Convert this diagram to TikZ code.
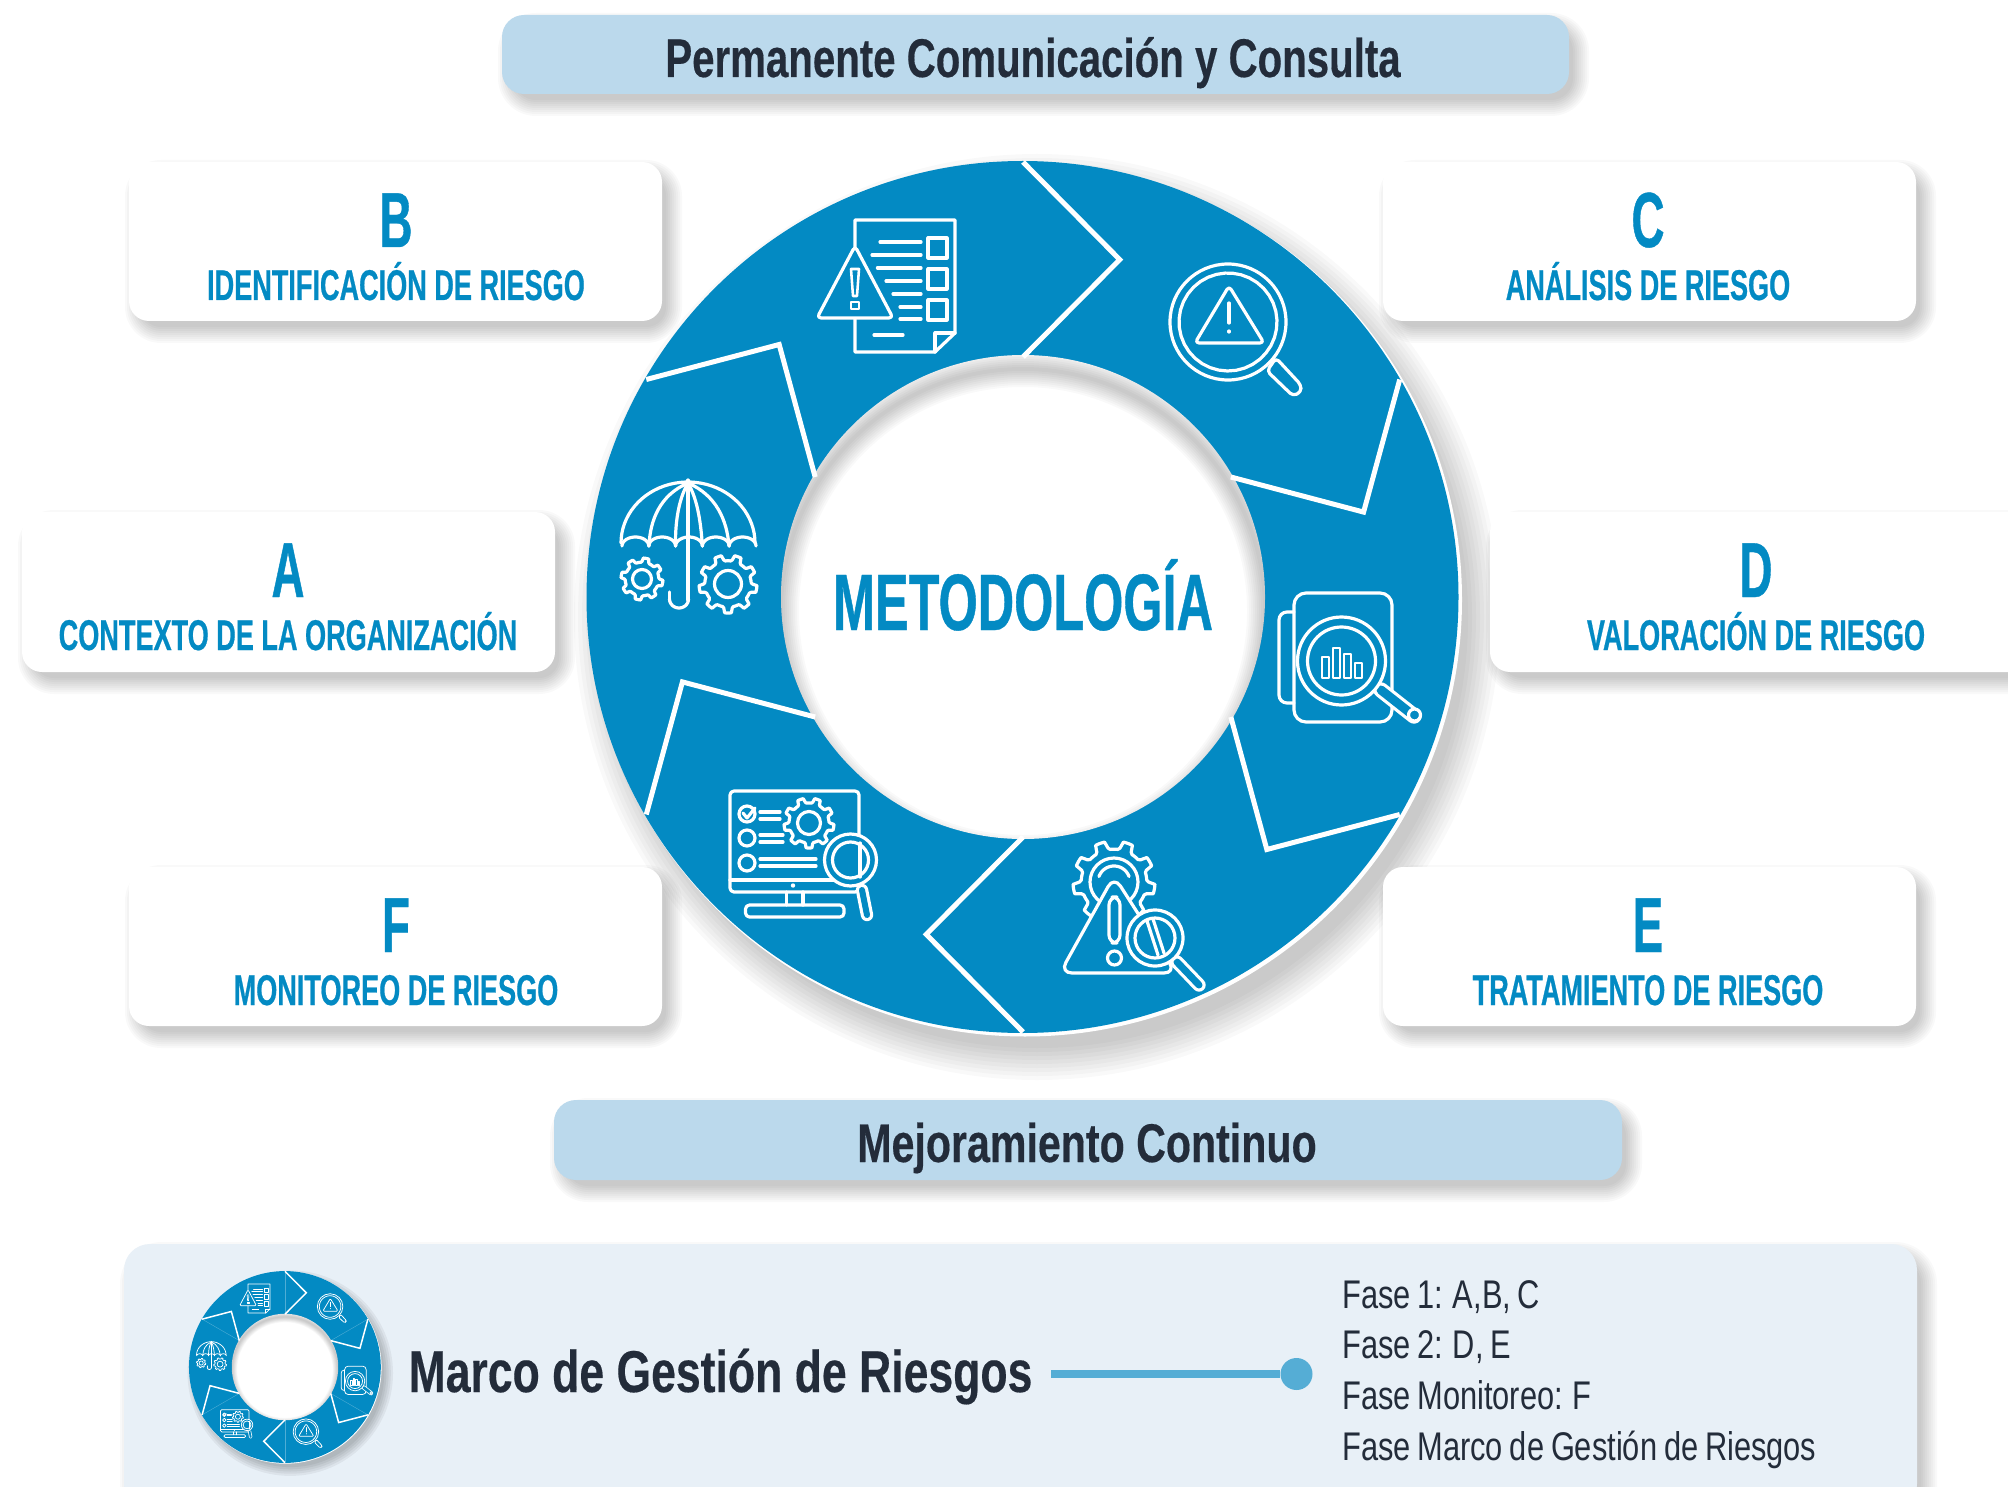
\documentclass[tikz,border=0pt]{standalone}
\usepackage{fontspec}
\setmainfont{Liberation Sans}
\newfontfamily\capsfont[FakeStretch=0.63,BoldFeatures={FakeBold=0.5}]{Liberation Sans}
\newfontfamily\bigfont[FakeStretch=0.585,BoldFeatures={FakeBold=0.5}]{Liberation Sans}
\newfontfamily\headfont[FakeStretch=0.738,BoldFeatures={FakeBold=0.3}]{Liberation Sans}
\newfontfamily\marcofont[FakeStretch=0.755,BoldFeatures={FakeBold=0.3}]{Liberation Sans}
\newfontfamily\bodyfont[FakeStretch=0.77,WordSpace=0.8]{Liberation Sans}
\definecolor{ringblue}{HTML}{038AC3}
\definecolor{ink}{HTML}{232C3A}
\definecolor{barblue}{HTML}{BBD9EC}
\definecolor{panelblue}{HTML}{E8F0F7}
\definecolor{dotblue}{HTML}{55ADD5}
\def\iw{3.2}\def\us{1}\def\rr{4pt}
\tikzset{
  icon/.style={draw=white,line width=\iw pt,line join=round,line cap=round},
  iconfill/.style={icon,fill=ringblue},
  letterlab/.style={anchor=base,text=ringblue,font=\bigfont\bfseries\fontsize{78}{82}\selectfont},
  sublab/.style={anchor=base,text=ringblue,font=\capsfont\bfseries\fontsize{43}{48}\selectfont},
  headlab/.style={anchor=base,text=ink,font=\headfont\bfseries\fontsize{54.5}{60}\selectfont},
  marcolab/.style={anchor=base,text=ink,font=\marcofont\bfseries},
  fase/.style={anchor=base west,inner xsep=0pt,text=ink,font=\bodyfont\fontsize{40}{44}\selectfont},
}
% soft box: x1 y1 x2 y2 fill radius
\newcommand\softbox[6]{%
  \foreach \s in {12,10,...,-4}{%
    \pgfmathsetmacro\rc{#6+\s+4}%
    \fill[black,opacity=.022,rounded corners=\rc pt] ({#1+8-\s},{#2+10-\s}) rectangle ({#3+8+\s},{#4+10+\s});
  }%
  \fill[#5,rounded corners=#6pt] (#1,#2) rectangle (#3,#4);
}
\newcommand\arcp[5]{\draw[icon] plot[domain=#4:#5,samples=36,variable=\t] ({#1+#3*cos(\t)},{#2-#3*sin(\t)});}
\newcommand\gearicon[5]{%
  \pgfmathtruncatemacro\gs{#5*12+1}%
  \draw[iconfill] plot[domain=0:360,samples=\gs,variable=\t]
    ({#1+#3*(.8+.2*max(0,min(1,2.5*sin(#5*\t)+.2)))*cos(\t)},{#2+#3*(.8+.2*max(0,min(1,2.5*sin(#5*\t)+.2)))*sin(\t)});
  \draw[icon] (#1,#2) circle[radius=#4 pt];
}
\newcommand\pill[5]{%
  \draw[white,line cap=round,line width=#5*\us pt+2*\iw pt] (#1,#2)--(#3,#4);
  \draw[ringblue,line cap=round,line width=#5*\us pt] (#1,#2)--(#3,#4);
}
\newcommand\iconA{%
  \draw[icon] plot[domain=0:180,samples=40,variable=\t] ({688+67*cos(\t)},{543-61*sin(\t)});
  \foreach \c in {635.4,662.2,689,715.8,742.6}{%
    \draw[icon] plot[domain=0:180,samples=16,variable=\t] ({\c+13.4*cos(\t)},{546-9*sin(\t)});}
  \draw[icon] (688,480)--(688,600);
  \draw[icon] plot[domain=0:180,samples=16,variable=\t] ({679+9.5*cos(\t)},{599+9*sin(\t)});
  \draw[icon] (669.5,599)--(669.5,592);
  \draw[icon] (688,483) .. controls (660,495) and (650,520) .. (649,546);
  \draw[icon] (688,483) .. controls (678,500) and (675,525) .. (675.6,546);
  \draw[icon] (688,483) .. controls (698,500) and (701,525) .. (702.4,546);
  \draw[icon] (688,483) .. controls (716,495) and (727,520) .. (729,546);
  \gearicon{642}{579}{21}{9.5}{8}
  \gearicon{728}{584}{29}{13.5}{9}
}
\newcommand\iconB{%
  \draw[icon] (855,220)--(955,220)--(955,333)--(935,352)--(855,352)--cycle;
  \draw[icon] (935,352)--(935,333)--(955,333);
  \foreach \a/\b/\y in {880/921/242,872/921/255,877.4/921/268,886/921/281,893/921/294,900/921/307,900/921/319,874/903/335}{%
    \draw[icon] (\a,\y)--(\b,\y);}
  \foreach \y in {238,269,300}{\draw[icon] (928,\y) rectangle (947,\y+20);}
  \draw[iconfill,rounded corners=\rr] (855,246)--(893,318)--(817,318)--cycle;
  \draw[icon,line width=.8*\iw pt] (851,269)--(859,269)--(857,296)--(853,296)--cycle;
  \draw[icon,line width=.8*\iw pt] (851,302) rectangle (859,309);
}
\newcommand\iconC{%
  \draw[icon] (1228,322) circle[radius=58pt];
  \arcp{1228}{322}{49}{83}{445}
  \draw[icon,rounded corners=\rr] (1267,371)--(1276,358)--(1301,385)--(1301,392)--(1293,396)--cycle;
  \draw[icon,rounded corners=\rr] (1229,286)--(1264,343)--(1195,343)--cycle;
  \draw[icon] (1229,303)--(1229,323);
  \draw[icon] (1229,331)--(1229,332);
}
\newcommand\iconD{%
  \draw[icon,rounded corners=2*\rr] (1294,612)--(1279,612)--(1279,703)--(1294,703);
  \draw[icon,rounded corners=3*\rr] (1294,593) rectangle (1392,722);
  \pill{1381}{690}{1414}{716}{9}
  \draw[iconfill] (1414.5,715) circle[radius=6pt];
  \draw[iconfill] (1341.5,661) circle[radius=44pt];
  \draw[icon] (1341.5,661) circle[radius=34pt];
  \foreach \a/\t in {1322/657,1333/648,1344/654,1355/663}{%
    \draw[icon,line width=.8*\iw pt] (\a,\t) rectangle (\a+7,678);}
}
\newcommand\iconE{%
  \gearicon{1114}{882}{41}{24}{9}
  \arcp{1114}{882}{16}{20}{160}
  \draw[iconfill,rounded corners=3*\rr] (1114,876)--(1176,973)--(1060,973)--cycle;
  \draw[icon,rounded corners=2*\rr] (1109,897) rectangle (1120,943);
  \draw[icon] (1114.5,958) circle[radius=7pt];
  \pill{1177}{962}{1199}{985}{7}
  \draw[iconfill] (1155,938) circle[radius=28pt];
  \draw[icon] (1155,938) circle[radius=20pt];
  \draw[icon] (1147,921)--(1158,955);
  \draw[icon] (1153,919)--(1164,953);
}
\newcommand\iconF{%
  \draw[icon,rounded corners=\rr] (730,791) rectangle (859,892);
  \draw[icon] (730,880)--(859,880);
  \fill[white] (793,885.5) circle[radius=2.2pt];
  \draw[icon] (786.5,892)--(786.5,905);
  \draw[icon] (803,892)--(803,905);
  \draw[icon,rounded corners=\rr] (745.5,905) rectangle (844,917);
  \draw[icon] (747,814) circle[radius=8pt];
  \draw[icon] (743,813)--(747,818)--(755,808);
  \draw[icon] (747,838) circle[radius=8pt];
  \draw[icon] (747,863) circle[radius=8pt];
  \foreach \a/\b/\y in {760/780/812,760/780/819,760/783/835,760/783/842,760/816/859,760/816/866}{%
    \draw[icon] (\a,\y)--(\b,\y);}
  \gearicon{809}{823}{25}{11.5}{9}
  \pill{862}{890}{867}{915}{6}
  \draw[iconfill] (850.5,860) circle[radius=26pt];
  \draw[icon] (850.5,860) circle[radius=18pt];
  \draw[icon] (860,843)--(860,877);
}
% ring without its lower icon
\newcommand\ringbase{%
  \fill[white] (1025,599.5) circle[radius=437pt];
  \fill[ringblue] (1022.5,597) circle[radius=436pt];
  \fill[white] (1023,597) circle[radius=242pt];
  \begin{scope}
    \clip (1023,597) circle[radius=242pt];
    \foreach \s in {4,8,...,36}{\draw[black,opacity=.024,line width=\s*\us pt] (1023,611) circle[radius=242pt];}
  \end{scope}
  \foreach \a in {90,30,-30,-90,-150,150}{%
    \draw[white,line width=5*\us pt,line join=miter]
      ({1023+435*cos(\a)},{597-435*sin(\a)})--({1023+351*cos(\a-16)},{597-351*sin(\a-16)})--({1023+240*cos(\a)},{597-240*sin(\a)});}
  \iconA\iconB\iconC\iconD\iconF
}
\begin{document}
\begin{tikzpicture}[x=1pt,y=-1pt]
\useasboundingbox (0,0) rectangle (2008,1487);
\clip (0,0) rectangle (2008,1487);
\fill[white] (0,0) rectangle (2008,1487);
% ring shadow
\foreach \s in {26,22,...,-6}{\fill[black,opacity=.024] (1037,617) circle[radius=437pt+\s pt];}
% boxes
\softbox{502}{15}{1569}{94}{barblue}{22}
\softbox{129}{162}{662}{321}{white}{20}
\softbox{1383}{162}{1916}{321}{white}{20}
\softbox{22}{512}{555}{672}{white}{20}
\softbox{1490}{512}{2060}{672}{white}{20}
\softbox{129}{867}{662}{1026}{white}{20}
\softbox{1383}{867}{1916}{1026}{white}{20}
\softbox{554}{1100}{1622}{1180}{barblue}{22}
\softbox{124}{1244}{1917}{1510}{panelblue}{26}
% big ring
\ringbase
\iconE
% small ring
\begin{scope}[shift={(285,1367)},scale=.22,shift={(-1023,-597)}]
  \def\iw{.75}\def\us{.3}\def\rr{1.2pt}
  \foreach \s in {30,20,...,-10}{\fill[black,opacity=.05] (1047,625) circle[radius=437pt+\s pt];}
  \ringbase
  \begin{scope}[shift={(-110,569)}]\iconC\end{scope}
  \foreach \a in {90,30,-30,-90,-150,150}{%
    \draw[white,opacity=.3,line width=.4pt]
      ({1023+433*cos(\a)},{597-433*sin(\a)})--({1023+242*cos(\a)},{597-242*sin(\a)});}
\end{scope}
% texts
\node[headlab] (top) at (1033,77) {Permanente Comunicación y Consulta};
\node[marcolab,font=\marcofont\bfseries\fontsize{54.5}{60}\selectfont] (mej) at (1087,1162) {Mejoramiento Continuo};
\node[anchor=base,text=ringblue,font=\capsfont\bfseries\fontsize{80}{86}\selectfont] (met) at (1023,630) {METODOLOGÍA};
\node[letterlab] (lb) at (396,247) {B};
\node[sublab] (sb) at (396,300) {IDENTIFICACIÓN DE RIESGO};
\node[letterlab] (lc) at (1648,247) {C};
\node[sublab] (sc) at (1648,300) {ANÁLISIS DE RIESGO};
\node[letterlab] (la) at (288,597) {A};
\node[sublab] (sa) at (288,650) {CONTEXTO DE LA ORGANIZACIÓN};
\node[letterlab] (ld) at (1756,597) {D};
\node[sublab] (sd) at (1756,650) {VALORACIÓN DE RIESGO};
\node[letterlab] (lf) at (396,952) {F};
\node[sublab] (sf) at (396,1005) {MONITOREO DE RIESGO};
\node[letterlab] (le) at (1648,952) {E};
\node[sublab] (se) at (1648,1005) {TRATAMIENTO DE RIESGO};
\node[marcolab,font=\marcofont\bfseries\fontsize{59}{64}\selectfont] (marco) at (720.5,1392) {Marco de Gestión de Riesgos};
\node[fase] (f1) at (1342,1308) {Fase 1: A,B, C};
\node[fase] (f2) at (1342,1358) {Fase 2: D, E};
\node[fase] (f3) at (1342,1409) {Fase Monitoreo: F};
\node[fase] (f4) at (1342,1460) {Fase Marco de Gestión de Riesgos};
% connector
\coordinate (cstart) at (1051,1374);
\node[circle,fill=dotblue,minimum size=32pt,inner sep=0pt] (dot) at (1296.5,1374) {};
\draw[dotblue,line width=8pt] (cstart)--(dot);
\end{tikzpicture}
\end{document}
